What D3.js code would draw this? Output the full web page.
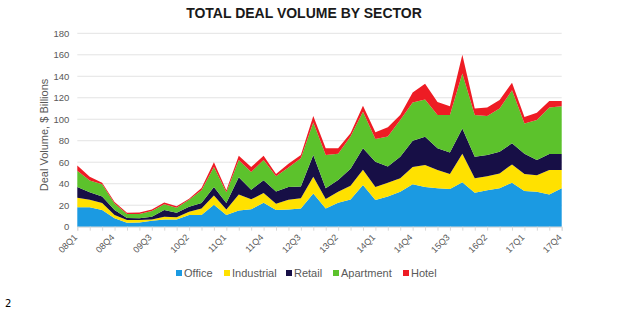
<!DOCTYPE html>
<html>
<head>
<meta charset="utf-8">
<style>
    body{ margin:0; background:#fff; }
    .grid line{ stroke:#e3e3e3; stroke-width:1; }
    .tick text{ fill:#595959; font-family:"Liberation Sans",Arial,sans-serif; }
</style>
</head>
<body>
<script src="https://cdn.jsdelivr.net/npm/d3@7/dist/d3.min.js"></script>
<script>
var width = 629, height = 327;

var quarters = [];
["08","09","10","11","12","13","14","15","16","17"].forEach(function(y){
    for (var q = 1; q <= 4; q++) quarters.push(y + "Q" + q);
});
var tickLabels = ["08Q1","08Q4","09Q3","10Q2","11Q1","11Q4","12Q3","13Q2","14Q1","14Q4","15Q3","16Q2","17Q1","17Q4"];
var yTicks = [0,20,40,60,80,100,120,140,160,180];

var sectors = ["Office","Industrial","Retail","Apartment","Hotel"];
var colors  = ["#1b9ae2","#ffe100","#170f46","#5cc22c","#ee1c24"];

// $ billions per quarter
var office     = [18,18,15.5,7.8,3.7,4,5.6,6.8,6.8,10.9,10.9,20.5,11,15,16.2,22.3,15.5,16,17,31,
                  17,22.3,25.4,38.8,24.8,28,32.6,39.4,37,35.7,35,41.3,31.6,34,35.7,41,33.2,32.6,30,35.7];
var industrial = [9,7,6.5,3.2,2.5,2.2,1.2,2.5,1.9,3.1,6.1,8.5,5,15,9.3,9,5.8,9,9.4,15.5,
                  8.8,10.3,12.6,14.2,12.2,13,12.4,16.1,20.4,17,14,26.7,13.4,13,13.9,17,15.8,15.4,22.7,17];
var retail     = [10,7,6,4.5,1.8,1.6,2.5,6.2,4.3,4.6,5,8,6,16,9,11.9,11.5,12,11,20.2,
                  9.9,10.8,16,20,23.5,15,20,24.5,26.4,20.3,20,23.5,20,19.7,20.2,19.6,19,14,14.9,14.9];
var apartment  = [15,11,11.4,6.2,3.8,4,5.3,5.5,4.7,6.4,12,18.5,10,16,16.5,18.8,14.2,18,26.2,30.3,
                  31,24.6,30,34,21.1,28,34.3,35.5,34.7,31,35,51.2,39,36.3,40.2,49.4,28,37.3,43.4,44.4];
var hotel      = [5,3.5,1.6,1.3,1.2,1.5,1.4,1.6,1.3,1,2,4.5,2,4,4.5,4,2,3.5,3.1,6,
                  6.3,5,3,5.6,6.4,8.5,4.7,9.5,14.5,12,8,17.3,6,8,8,7,6,6.7,6,5];

var series = [office, industrial, retail, apartment, hotel];
var table = quarters.map(function(q, i){
    var row = {q:q};
    sectors.forEach(function(s, j){ row[s] = series[j][i]; });
    return row;
});

var margin = {left:77.3, right:629-561.7, top:33.3, bottom:327-226.7};

var svg = d3.select("body").append("svg")
    .attr("width", width)
    .attr("height", height);

var x = d3.scalePoint()
    .domain(quarters)
    .range([margin.left, width - margin.right]);

var y = d3.scaleLinear()
    .domain([0,180])
    .range([height - margin.bottom, margin.top]);

// gridlines
svg.append("g")
    .attr("class","grid")
    .selectAll("line")
    .data(yTicks)
    .enter().append("line")
    .attr("x1", margin.left)
    .attr("x2", width - margin.right)
    .attr("y1", function(d){ return y(d); })
    .attr("y2", function(d){ return y(d); });

// y tick labels
var yAxis = svg.append("g")
    .attr("transform","translate(" + (margin.left - 8) + ",0)")
    .call(d3.axisLeft(y).tickValues(yTicks).tickSize(0).tickPadding(0));
yAxis.select(".domain").remove();
yAxis.selectAll("text").attr("font-size", 9.5);

// stacked areas
var stack = d3.stack().keys(sectors);
var layers = stack(table);

var area = d3.area()
    .x(function(d){ return x(d.data.q); })
    .y0(function(d){ return y(d[0]); })
    .y1(function(d){ return y(d[1]); });

svg.append("g").selectAll("path")
    .data(layers)
    .enter().append("path")
    .attr("fill", function(d, i){ return colors[i]; })
    .attr("d", area);

// x axis
var xAxis = svg.append("g")
    .attr("transform","translate(0," + y(0) + ")")
    .call(d3.axisBottom(x).tickSize(4).tickFormat(function(d){
        return tickLabels.indexOf(d) >= 0 ? d : "";
    }));
xAxis.select(".domain").attr("stroke","#d9d9d9");
xAxis.selectAll(".tick line").attr("stroke","#d9d9d9");
xAxis.selectAll("text")
    .attr("font-size", 9)
    .attr("text-anchor","end")
    .attr("x", 0)
    .attr("y", 7)
    .attr("dx", -3)
    .attr("dy", 3)
    .attr("transform","rotate(-45 0 7)");

// title
svg.append("text")
    .attr("x", 304)
    .attr("y", 18)
    .attr("text-anchor","middle")
    .attr("font-family","'Liberation Sans',Arial,sans-serif")
    .attr("font-weight","bold")
    .attr("font-size", 14)
    .attr("fill","#1a1a1a")
    .text("TOTAL DEAL VOLUME BY SECTOR");

// y axis title
svg.append("text")
    .attr("transform","translate(48,135) rotate(-90)")
    .attr("text-anchor","middle")
    .attr("font-family","'Liberation Sans',Arial,sans-serif")
    .attr("font-size", 11)
    .attr("fill","#595959")
    .text("Deal Volume, $ Billions");

// legend
var legendX = [176, 224, 286, 333, 403];
var legend = svg.append("g").selectAll("g")
    .data(sectors)
    .enter().append("g")
    .attr("transform", function(d, i){ return "translate(" + legendX[i] + ",273)"; });
legend.append("rect")
    .attr("x", 0).attr("y", -3)
    .attr("width", 6).attr("height", 6)
    .attr("fill", function(d, i){ return colors[i]; });
legend.append("text")
    .attr("x", 8)
    .attr("y", 4)
    .attr("font-family","'Liberation Sans',Arial,sans-serif")
    .attr("font-size", 11)
    .attr("fill","#595959")
    .text(function(d){ return d; });

// page number
svg.append("text")
    .attr("x", 5)
    .attr("y", 307)
    .attr("font-family","'DejaVu Sans',sans-serif")
    .attr("font-size", 10)
    .attr("fill","#000")
    .text("2");
</script>
</body>
</html>
